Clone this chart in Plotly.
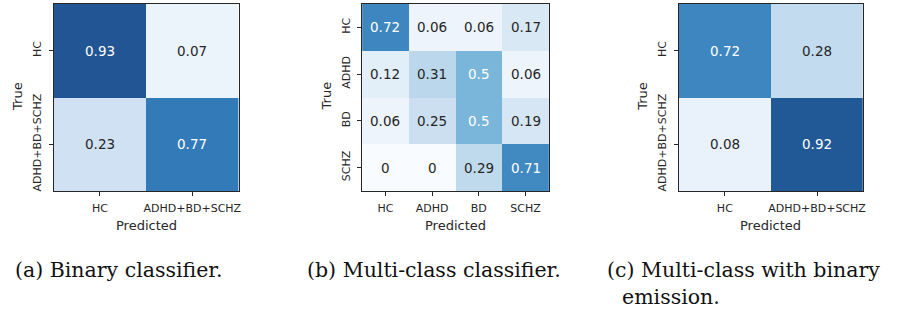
import plotly.graph_objects as go

W, H = 902, 309

# ---------------- data ----------------
bin_labels = ["HC", "ADHD+BD+SCHZ"]
multi_labels = ["HC", "ADHD", "BD", "SCHZ"]

cm_binary = [[0.93, 0.07],
             [0.23, 0.77]]
cm_multi = [[0.72, 0.06, 0.06, 0.17],
            [0.12, 0.31, 0.5, 0.06],
            [0.06, 0.25, 0.5, 0.19],
            [0, 0, 0.29, 0.71]]
cm_multi_bin = [[0.72, 0.28],
                [0.08, 0.92]]

captions = ["(a) Binary classifier.", "(b) Multi-class classifier.",
            "(c) Multi-class with binary", "emission."]

# ---------------- styling ----------------
blues = [(247, 251, 255), (222, 235, 247), (198, 219, 239), (158, 202, 225),
         (107, 174, 214), (66, 146, 198), (33, 113, 181), (8, 81, 156), (8, 48, 107)]
alpha = 0.9
colorscale = []
for i, c in enumerate(blues):
    r, g, b = [round(alpha * v + (1 - alpha) * 255) for v in c]
    colorscale.append([i / (len(blues) - 1), f"rgb({r},{g},{b})"])

DARK = "#262626"
SANS = "DejaVu Sans"
SERIF = "DejaVu Serif"


def px_x(p):
    return p / W


def px_y(p):
    return 1 - p / H


panels = [
    dict(z=cm_binary, labels=bin_labels, x0=54, x1=239.3, true_x=18, pred_x=146.5),
    dict(z=cm_multi, labels=multi_labels, x0=363.3, x1=550.7, true_x=328.5, pred_x=457),
    dict(z=cm_multi_bin, labels=bin_labels, x0=681, x1=866, true_x=645, pred_x=773),
]
top, bottom = 4, 191

fig = go.Figure()
annotations = []
for k, p in enumerate(panels):
    xa = "x" if k == 0 else f"x{k+1}"
    ya = "y" if k == 0 else f"y{k+1}"
    fig.add_trace(go.Heatmap(
        z=p["z"], x=p["labels"], y=p["labels"],
        colorscale=colorscale, zmin=0, zmax=1, showscale=False,
        xaxis=xa, yaxis=ya, hoverinfo="skip",
    ))
    axis_common = dict(
        showgrid=False, zeroline=False, showline=True, mirror=True,
        linecolor=DARK, linewidth=1.2, ticks="outside", ticklen=4,
        tickwidth=1, tickcolor=DARK,
        tickfont=dict(family=SANS, size=11, color=DARK),
        type="category",
    )
    xname = "xaxis" if k == 0 else f"xaxis{k+1}"
    yname = "yaxis" if k == 0 else f"yaxis{k+1}"
    fig.layout[xname] = dict(axis_common, domain=[px_x(p["x0"]), px_x(p["x1"])],
                             anchor=ya, ticklabelstandoff=3)
    fig.layout[yname] = dict(axis_common, domain=[px_y(bottom), px_y(top)],
                             anchor=xa, autorange="reversed", tickangle=-90,
                             ticklabelstandoff=3)
    # cell annotations
    for i, row_lab in enumerate(p["labels"]):
        for j, col_lab in enumerate(p["labels"]):
            v = p["z"][i][j]
            annotations.append(dict(
                x=col_lab, y=row_lab, xref=xa, yref=ya, text=format(v, "g"),
                showarrow=False,
                font=dict(family=SANS, size=13.5,
                          color="white" if v >= 0.5 else DARK),
            ))
    # axis titles
    annotations.append(dict(x=px_x(p["pred_x"]), y=px_y(225), xref="paper", yref="paper",
                            text="Predicted", showarrow=False, xanchor="center",
                            yanchor="middle", font=dict(family=SANS, size=13, color=DARK)))
    annotations.append(dict(x=px_x(p["true_x"]), y=px_y(96), xref="paper", yref="paper",
                            text="True", showarrow=False, xanchor="center",
                            yanchor="middle", textangle=-90,
                            font=dict(family=SANS, size=13, color=DARK)))

cap_pos = [(13, 270), (306, 270), (607, 270), (622, 297)]
for txt, (cx, cy) in zip(captions, cap_pos):
    annotations.append(dict(x=px_x(cx), y=px_y(cy), xref="paper", yref="paper",
                            text=txt, showarrow=False, xanchor="left", yanchor="middle",
                            font=dict(family=SERIF, size=20.5, color="#111111")))

fig.update_layout(
    width=W, height=H, margin=dict(l=0, r=0, t=0, b=0),
    paper_bgcolor="white", plot_bgcolor="white",
    annotations=annotations, showlegend=False,
)

fig.write_html("out.html",
               config={"displayModeBar": False, "staticPlot": True},
               post_script="document.body.style.margin='0';document.body.style.overflow='hidden';")
